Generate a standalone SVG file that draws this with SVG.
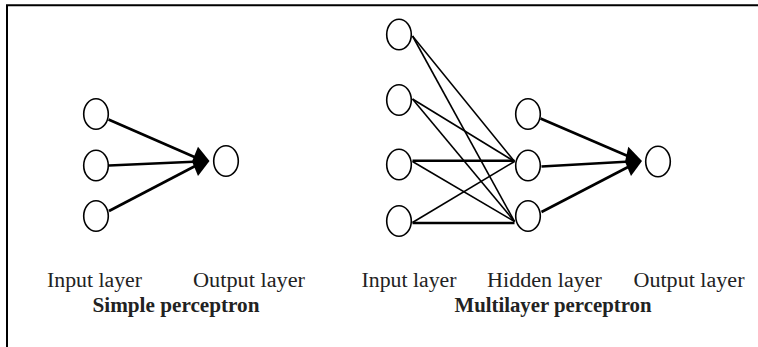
<svg xmlns="http://www.w3.org/2000/svg" width="758" height="347" viewBox="0 0 758 347">
<style>
.node{fill:#fff;stroke:#000;stroke-width:1.6}
.thin{stroke:#000;stroke-width:1.6;fill:none}
.thick{stroke:#000;stroke-width:2.6;fill:none}
.head{fill:#000;stroke:none}
.lbl{font-family:"Liberation Serif","Times New Roman",serif;font-size:20.5px;fill:#222}
.ttl{font-family:"Liberation Serif","Times New Roman",serif;font-size:20.5px;font-weight:bold;fill:#222}
</style>
<rect width="758" height="347" fill="#fff"/>
<g id="frame">
<path d="M7 347 V5.3 H758" fill="none" stroke="#000" stroke-width="2"/>
</g>
<g id="connectors">
<line class="thick" x1="108.5" y1="119.5" x2="199" y2="159"/>
<line class="thick" x1="109" y1="165.5" x2="199" y2="161.5"/>
<line class="thick" x1="109" y1="211" x2="199" y2="164"/>
<polygon class="head" points="198,146.7 209.5,161 198,176 192,161.5"/>
<line class="thin" x1="412.5" y1="36" x2="514.5" y2="161.5"/>
<line class="thin" x1="412.5" y1="36" x2="514.5" y2="221.5"/>
<line class="thin" x1="412.5" y1="99" x2="514.5" y2="161.5"/>
<line class="thin" x1="412.5" y1="99" x2="514.5" y2="221.5"/>
<line class="thick" x1="412.5" y1="160.8" x2="514.5" y2="160.8"/>
<line class="thin" x1="412.5" y1="161.5" x2="514.5" y2="221.5"/>
<line class="thin" x1="412.5" y1="222.5" x2="514.5" y2="161.5"/>
<line class="thick" x1="412.5" y1="223" x2="514.5" y2="223"/>
<line class="thick" x1="540.5" y1="118.5" x2="630" y2="157"/>
<line class="thick" x1="541.5" y1="166.5" x2="630" y2="161.5"/>
<line class="thick" x1="541.5" y1="212" x2="630" y2="166"/>
<polygon class="head" points="628.3,146.7 642,161 631,176 625,161.7"/>
</g>
<g id="sp-in1"><ellipse class="node" cx="96" cy="114" rx="12.3" ry="15.3"/></g>
<g id="sp-in2"><ellipse class="node" cx="96" cy="165.5" rx="12.3" ry="15.3"/></g>
<g id="sp-in3"><ellipse class="node" cx="96" cy="216" rx="12.3" ry="15.3"/></g>
<g id="sp-out"><ellipse class="node" cx="226" cy="161" rx="12.3" ry="15.3"/></g>
<g id="ml-in1"><ellipse class="node" cx="399" cy="34.5" rx="12.3" ry="15.3"/></g>
<g id="ml-in2"><ellipse class="node" cx="399" cy="100" rx="12.3" ry="15.3"/></g>
<g id="ml-in3"><ellipse class="node" cx="399" cy="164.5" rx="12.3" ry="15.3"/></g>
<g id="ml-in4"><ellipse class="node" cx="399" cy="221" rx="12.3" ry="15.3"/></g>
<g id="ml-h1"><ellipse class="node" cx="528" cy="114" rx="12.3" ry="15.3"/></g>
<g id="ml-h2"><ellipse class="node" cx="528" cy="165.5" rx="12.3" ry="15.3"/></g>
<g id="ml-h3"><ellipse class="node" cx="528" cy="216" rx="12.3" ry="15.3"/></g>
<g id="ml-out"><ellipse class="node" cx="658" cy="161.5" rx="12.3" ry="15.3"/></g>
<g id="labels">
<text class="lbl" x="47" y="286.7" textLength="95" lengthAdjust="spacingAndGlyphs">Input layer</text>
<text class="lbl" x="193" y="286.7" textLength="112" lengthAdjust="spacingAndGlyphs">Output layer</text>
<text class="ttl" x="92.5" y="312" textLength="167" lengthAdjust="spacingAndGlyphs">Simple perceptron</text>
<text class="lbl" x="361.5" y="286.7" textLength="95" lengthAdjust="spacingAndGlyphs">Input layer</text>
<text class="lbl" x="487" y="286.7" textLength="115" lengthAdjust="spacingAndGlyphs">Hidden layer</text>
<text class="lbl" x="633.5" y="286.7" textLength="111" lengthAdjust="spacingAndGlyphs">Output layer</text>
<text class="ttl" x="454.5" y="312" textLength="197" lengthAdjust="spacingAndGlyphs">Multilayer perceptron</text>
</g>
</svg>
